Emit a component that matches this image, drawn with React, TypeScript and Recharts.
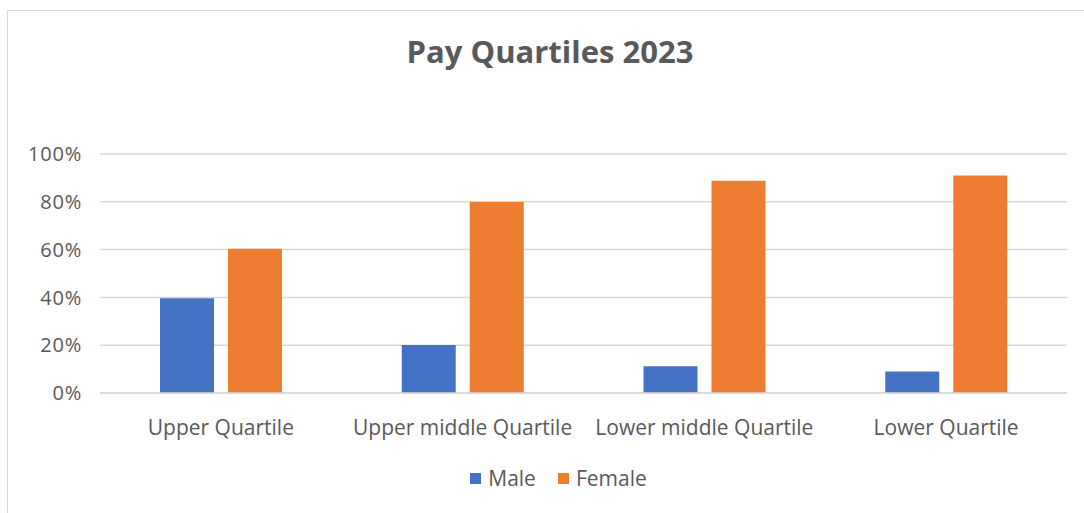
import React from "react";
import { BarChart, Bar, XAxis, YAxis, CartesianGrid, Legend } from "recharts";

const categories = ["Upper Quartile", "Upper middle Quartile", "Lower middle Quartile", "Lower Quartile"];
const maleValues = [39.6, 20.1, 11.2, 9.0];
const femaleValues = [60.4, 79.9, 88.8, 91.0];
const yTicks = [0, 20, 40, 60, 80, 100];
const seriesOrder = ["Male", "Female"];

const data = categories.map((c, i) => ({ name: c, Male: maleValues[i], Female: femaleValues[i] }));

const FONT = "'Open Sans', 'Liberation Sans', sans-serif";
const TXT = "#595959";

function LegendContent(props: any) {
  const payload = [...(props.payload || [])].sort(
    (a: any, b: any) => seriesOrder.indexOf(a.value) - seriesOrder.indexOf(b.value)
  );
  return (
    <div style={{ display: "flex", justifyContent: "center", paddingLeft: 42, fontFamily: FONT }}>
      {payload.map((p: any, i: number) => (
        <div key={p.value} style={{ display: "flex", alignItems: "center", marginLeft: i ? 22 : 0 }}>
          <span style={{ display: "inline-block", width: 11, height: 11, background: p.color, marginRight: 7 }} />
          <span style={{ color: TXT, fontSize: 21 }}>{p.value}</span>
        </div>
      ))}
    </div>
  );
}

export default function App() {
  return (
    <div
      style={{
        position: "absolute",
        left: 7,
        top: 10,
        width: 1076,
        height: 502,
        border: "1px solid #d9d9d9",
        borderRight: "none",
        borderBottom: "none",
        background: "#fff",
        fontFamily: FONT,
      }}
    >
      <div
        style={{
          position: "absolute",
          left: 0,
          top: 19,
          width: 1084,
          textAlign: "center",
          fontSize: 31,
          fontWeight: 700,
          color: TXT,
          lineHeight: "normal",
        }}
      >
        Pay Quartiles 2023
      </div>
      <BarChart
        width={1076}
        height={502}
        data={data}
        margin={{ top: 143, right: 17, bottom: 9, left: 0 }}
        barSize={54}
        barGap={14}
      >
        <CartesianGrid vertical={false} stroke="#d9d9d9" strokeWidth={1.5} />
        <XAxis
          dataKey="name"
          height={71}
          tickLine={false}
          axisLine={{ stroke: "#d9d9d9", strokeWidth: 1.5 }}
          tick={{ fill: TXT, fontSize: 21, fontFamily: FONT }}
          tickMargin={21}
          interval={0}
        />
        <YAxis
          width={92}
          domain={[0, 100]}
          ticks={yTicks}
          tickFormatter={(v) => `${v}%`}
          axisLine={false}
          tickLine={false}
          tick={{ fill: TXT, fontSize: 20, fontFamily: FONT, letterSpacing: 0.8 }}
          tickMargin={12}
        />
        <Legend verticalAlign="bottom" height={40} content={LegendContent} />
        <Bar dataKey="Male" fill="#4472C4" isAnimationActive={false} />
        <Bar dataKey="Female" fill="#ED7D31" isAnimationActive={false} />
      </BarChart>
    </div>
  );
}
